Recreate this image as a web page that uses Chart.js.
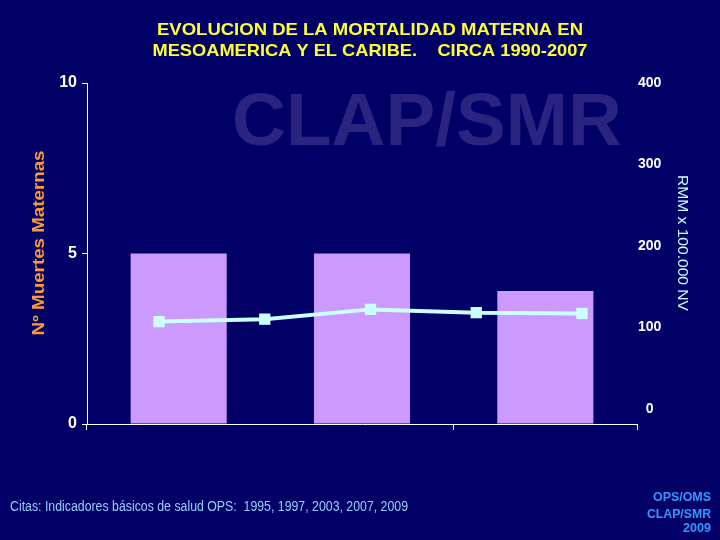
<!DOCTYPE html>
<html><head><meta charset="utf-8">
<script src="https://cdn.jsdelivr.net/npm/chart.js@4"></script>
<style>html,body{margin:0;padding:0;background:#000066;}#wrap{width:720px;height:540px;}</style>
</head><body><div id="wrap"><canvas id="c" width="720" height="540"></canvas></div>
<script>
const categories = ['Período 1', 'Período 2', 'Período 3'];
const muertes = [5.0, 5.0, 3.9];
const rmmYears = [1995, 1997, 2003, 2007, 2009];
const rmmValues = [107, 110, 122, 118, 117];
const leftTicks = [0, 5, 10];
const rightTicks = [0, 100, 200, 300, 400];

function fitText(ctx, text, x, y, w, align) {
  const m = ctx.measureText(text).width;
  const sx = w / m;
  ctx.save();
  let left = x;
  if (align === 'center') left = x - w / 2;
  else if (align === 'right') left = x - w;
  ctx.translate(left, y);
  ctx.scale(sx, 1);
  ctx.textAlign = 'left';
  ctx.fillText(text, 0, 0);
  ctx.restore();
}

const textPlugin = {
  id: 'texts',
  beforeDraw(chart) {
    const ctx = chart.ctx;
    ctx.save();
    ctx.fillStyle = '#000066';
    ctx.fillRect(0, 0, chart.width, chart.height);
    ctx.fillStyle = '#2b2380';
    ctx.font = 'bold 74px "Liberation Sans", Arial, sans-serif';
    ctx.textBaseline = 'alphabetic';
    fitText(ctx, 'CLAP/SMR', 232, 145, 390, 'left');
    ctx.restore();
  },
  afterDraw(chart) {
    const ctx = chart.ctx;
    ctx.save();
    ctx.textBaseline = 'middle';
    ctx.fillStyle = '#ffff33';
    ctx.font = 'bold 17px "Liberation Sans", Arial, sans-serif';
    fitText(ctx, 'EVOLUCION DE LA MORTALIDAD MATERNA EN', 370, 30, 426, 'center');
    fitText(ctx, 'MESOAMERICA Y EL CARIBE.    CIRCA 1990-2007', 370, 51, 435, 'center');
    // left axis title
    ctx.save();
    ctx.translate(40, 243);
    ctx.rotate(-Math.PI / 2);
    ctx.fillStyle = '#ff9933';
    ctx.font = 'bold 16px "Liberation Sans", Arial, sans-serif';
    fitText(ctx, 'Nº Muertes Maternas', 0, 0, 185, 'center');
    ctx.restore();
    // right axis title
    ctx.save();
    ctx.translate(682, 243);
    ctx.rotate(Math.PI / 2);
    ctx.fillStyle = '#ccffff';
    ctx.font = '15px "Liberation Sans", Arial, sans-serif';
    fitText(ctx, 'RMM x 100.000 NV', 0, 0, 136, 'center');
    ctx.restore();
    // footer
    ctx.fillStyle = '#99ccff';
    ctx.font = '14px "Liberation Sans", Arial, sans-serif';
    fitText(ctx, 'Citas: Indicadores básicos de salud OPS:  1995, 1997, 2003, 2007, 2009', 10, 507, 398, 'left');
    ctx.fillStyle = '#3399ff';
    ctx.font = 'bold 13px "Liberation Sans", Arial, sans-serif';
    fitText(ctx, 'OPS/OMS', 711, 497, 58, 'right');
    fitText(ctx, 'CLAP/SMR', 711, 514, 64, 'right');
    fitText(ctx, '2009', 711, 528, 28, 'right');
    ctx.restore();
  }
};

new Chart(document.getElementById('c'), {
  type: 'bar',
  data: {
    labels: categories,
    datasets: [
      {
        type: 'bar',
        data: muertes,
        backgroundColor: '#cc99ff',
        borderWidth: 0,
        grouped: false,
        barPercentage: 0.524,
        categoryPercentage: 1,
        xAxisID: 'x',
        yAxisID: 'y',
        order: 2
      },
      {
        type: 'line',
        data: rmmValues.map((v, i) => ({ x: i, y: v })),
        borderColor: '#ccffff',
        backgroundColor: '#ccffff',
        borderWidth: 4,
        pointStyle: 'rect',
        pointRadius: 8,
        pointHoverRadius: 8,
        pointBorderWidth: 0,
        tension: 0,
        xAxisID: 'x2',
        yAxisID: 'y2',
        order: 1
      }
    ]
  },
  options: {
    responsive: false,
    animation: false,
    devicePixelRatio: 1,
    layout: { padding: { top: 83, left: 0, right: 0, bottom: 0 } },
    plugins: { legend: { display: false }, tooltip: { enabled: false }, title: { display: false } },
    scales: {
      x: {
        type: 'category',
        offset: true,
        ticks: { display: false },
        grid: {
          offset: true,
          drawOnChartArea: false,
          drawTicks: true,
          tickLength: 6,
          color: (c) => (c.index === 1 ? 'rgba(0,0,0,0)' : '#ffffff')
        },
        border: { display: true, color: '#ffffff', width: 1 },
        afterFit(s) { s.height = 116; }
      },
      x2: {
        type: 'linear',
        display: false,
        offset: false,
        grid: { offset: false },
        bounds: 'data',
        min: -0.681,
        max: 4.52
      },
      y: {
        type: 'linear',
        position: 'left',
        min: 0,
        max: 10,
        afterBuildTicks(s) { s.ticks = leftTicks.map(v => ({ value: v })); },
        ticks: {
          color: '#ffffff',
          font: { family: '"Liberation Sans", Arial, sans-serif', size: 16, weight: 'bold' },
          padding: 5
        },
        grid: { drawOnChartArea: false, drawTicks: true, tickLength: 5, color: '#ffffff' },
        border: { display: true, color: '#ffffff', width: 1 },
        afterFit(s) { s.width = 87; }
      },
      y2: {
        type: 'linear',
        position: 'right',
        min: -18.75,
        max: 400,
        afterBuildTicks(s) { s.ticks = rightTicks.map(v => ({ value: v })); },
        ticks: {
          color: '#ffffff',
          font: { family: '"Liberation Sans", Arial, sans-serif', size: 14, weight: 'bold' },
          padding: 1,
          crossAlign: 'center'
        },
        grid: { display: false, drawTicks: false },
        border: { display: false },
        afterFit(s) { s.width = 83; }
      }
    }
  },
  plugins: [textPlugin]
});
</script>
</body></html>
